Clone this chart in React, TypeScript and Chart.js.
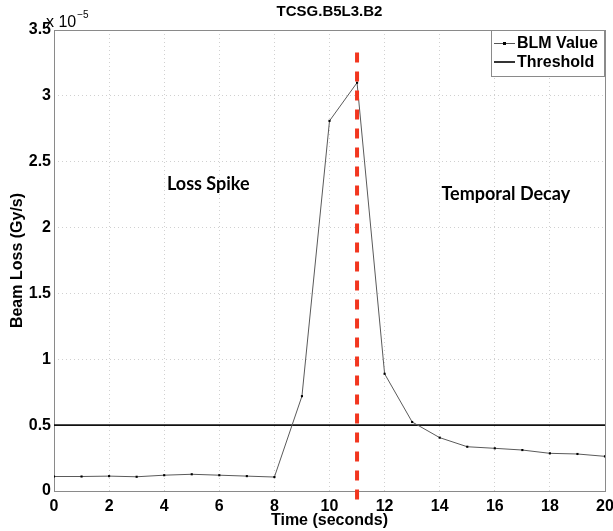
import React, { useEffect, useRef } from "react";
import { Chart, registerables } from "chart.js";

Chart.register(...registerables);

// ---- data (BLM values in units of 1e-5 Gy/s) ----
const timeSeconds = [0, 1, 2, 3, 4, 5, 6, 7, 8, 9, 10, 11, 12, 13, 14, 15, 16, 17, 18, 19, 20];
const blmValues = [0.11, 0.11, 0.113, 0.108, 0.12, 0.127, 0.12, 0.113, 0.106, 0.72, 2.81, 3.1, 0.89, 0.524, 0.405, 0.336, 0.324, 0.311, 0.286, 0.281, 0.263];
const thresholdTimes = [0, 20];
const thresholdValues = [0.5, 0.5];
const xTickValues = [0, 2, 4, 6, 8, 10, 12, 14, 16, 18, 20];
const yTickValues = [0, 0.5, 1, 1.5, 2, 2.5, 3, 3.5];
const markerTime = 11;
const markerSpan = [3.33, -0.09];
const titleText = "TCSG.B5L3.B2";
const legendLabels = ["BLM Value", "Threshold"];
const annotationTexts = ["Loss Spike", "Temporal Decay"];

// annotation anchors (data coords)
const annotationAnchors = [
  { x: 5.6, y: 2.33 },
  { x: 16.4, y: 2.25 },
];

const FONT = "'Liberation Sans', Arial, Helvetica, sans-serif";

const drawPlugin = {
  id: "extras",
  beforeDatasetsDraw(chart: any) {
    const { ctx, chartArea } = chart;
    ctx.save();
    ctx.strokeStyle = "#8a8a8a";
    ctx.lineWidth = 1;
    ctx.setLineDash([]);
    ctx.strokeRect(chartArea.left + 0.5, chartArea.top + 0.5, chartArea.right - chartArea.left, chartArea.bottom - chartArea.top);
    ctx.restore();
  },
  afterDatasetsDraw(chart: any) {
    const { ctx } = chart;
    const xs = chart.scales.x;
    const ys = chart.scales.y;
    const px = xs.getPixelForValue(markerTime);
    ctx.save();
    ctx.strokeStyle = "#f2361f";
    ctx.lineWidth = 4;
    ctx.setLineDash([10, 9]);
    ctx.beginPath();
    ctx.moveTo(px, ys.getPixelForValue(markerSpan[0]));
    ctx.lineTo(px, ys.getPixelForValue(markerSpan[1]));
    ctx.stroke();
    ctx.restore();
  },
  afterDraw(chart: any) {
    const { ctx, chartArea } = chart;
    const xs = chart.scales.x;
    const ys = chart.scales.y;
    ctx.save();
    // title
    ctx.fillStyle = "#000";
    ctx.font = `bold 15px ${FONT}`;
    ctx.textAlign = "center";
    ctx.textBaseline = "middle";
    ctx.fillText(titleText, (chartArea.left + chartArea.right) / 2, 12);
    // exponent
    ctx.textAlign = "left";
    ctx.textBaseline = "alphabetic";
    ctx.font = `16px ${FONT}`;
    const ex = chartArea.left - 8;
    ctx.fillText("x 10", ex, 27);
    const w = ctx.measureText("x 10").width;
    ctx.font = `10px ${FONT}`;
    ctx.fillText("\u22125", ex + w + 1, 18);
    // annotations
    ctx.font = `bold 18px Lato, 'Open Sans', sans-serif`;
    ctx.textAlign = "center";
    ctx.textBaseline = "middle";
    annotationTexts.forEach((t, i) => {
      ctx.fillText(t, xs.getPixelForValue(annotationAnchors[i].x), ys.getPixelForValue(annotationAnchors[i].y));
    });
    // legend
    const bx = 491, by = chartArea.top, bw = chartArea.right - 491, bh = 46;
    ctx.fillStyle = "#fff";
    ctx.fillRect(bx, by, bw, bh);
    ctx.strokeStyle = "#8a8a8a";
    ctx.lineWidth = 1;
    ctx.strokeRect(bx + 0.5, by + 0.5, bw - 1, bh);
    ctx.font = `bold 16px ${FONT}`;
    ctx.textAlign = "left";
    ctx.fillStyle = "#000";
    const rows = [by + 13, by + 32];
    // row 1
    ctx.strokeStyle = "#555";
    ctx.lineWidth = 1;
    ctx.beginPath();
    ctx.moveTo(494, rows[0] + 0.5);
    ctx.lineTo(515, rows[0] + 0.5);
    ctx.stroke();
    ctx.fillRect(503, rows[0] - 1, 3, 3);
    ctx.fillText(legendLabels[0], 517, rows[0] + 1);
    // row 2
    ctx.strokeStyle = "#000";
    ctx.lineWidth = 1.6;
    ctx.beginPath();
    ctx.moveTo(494, rows[1]);
    ctx.lineTo(515, rows[1]);
    ctx.stroke();
    ctx.fillText(legendLabels[1], 517, rows[1] + 1);
    ctx.restore();
  },
};

export default function App() {
  const ref = useRef<HTMLCanvasElement>(null);
  useEffect(() => {
    const canvas = ref.current!;
    const chart = new Chart(canvas, {
      type: "line",
      data: {
        datasets: [
          {
            label: legendLabels[0],
            data: timeSeconds.map((t, i) => ({ x: t, y: blmValues[i] })),
            borderColor: "#5a5a5a",
            borderWidth: 1,
            pointStyle: "rect",
            pointRadius: 1.5,
            pointBackgroundColor: "#000",
            pointBorderColor: "#000",
            pointBorderWidth: 0,
            tension: 0,
          },
          {
            label: legendLabels[1],
            data: thresholdTimes.map((t, i) => ({ x: t, y: thresholdValues[i] })),
            borderColor: "#111",
            borderWidth: 1.8,
            pointRadius: 0,
          },
        ],
      },
      options: {
        responsive: false,
        animation: false,
        devicePixelRatio: 1,
        layout: { padding: { left: 0, right: 8, top: 30, bottom: 0 } },
        plugins: { legend: { display: false }, tooltip: { enabled: false } },
        scales: {
          x: {
            type: "linear",
            min: 0,
            max: 20,
            afterBuildTicks: (s: any) => { s.ticks = xTickValues.map((v) => ({ value: v })); },
            afterFit: (s: any) => { s.height = 40; s.paddingLeft = 0; s.paddingRight = 0; },
            ticks: { font: { family: FONT, size: 16, weight: "bold" }, color: "#000", padding: 6, maxRotation: 0 },
            grid: { color: "#d0d0d0", lineWidth: 1, drawTicks: false },
            border: { display: false, dash: [1, 3] },
            title: { display: true, text: "Time (seconds)", font: { family: FONT, size: 16, weight: "bold" }, color: "#000", padding: { top: 0, bottom: 1 } },
          },
          y: {
            min: 0,
            max: 3.5,
            afterBuildTicks: (s: any) => { s.ticks = yTickValues.map((v) => ({ value: v })); },
            afterFit: (s: any) => { s.width = 54; },
            ticks: { font: { family: FONT, size: 16, weight: "bold" }, color: "#000", padding: 3, callback: (v: any) => String(v) },
            grid: { color: "#d0d0d0", lineWidth: 1, drawTicks: false },
            border: { display: false, dash: [1, 3] },
            title: { display: true, text: "Beam Loss (Gy/s)", font: { family: FONT, size: 16, weight: "bold" }, color: "#000", padding: { top: 8, bottom: 0 } },
          },
        },
      },
      plugins: [drawPlugin],
    });
    return () => chart.destroy();
  }, []);
  return (
    <div style={{ position: "absolute", left: 0, top: 0, width: 613, height: 531, background: "#fff" }}>
      <canvas ref={ref} width={613} height={531} />
    </div>
  );
}
